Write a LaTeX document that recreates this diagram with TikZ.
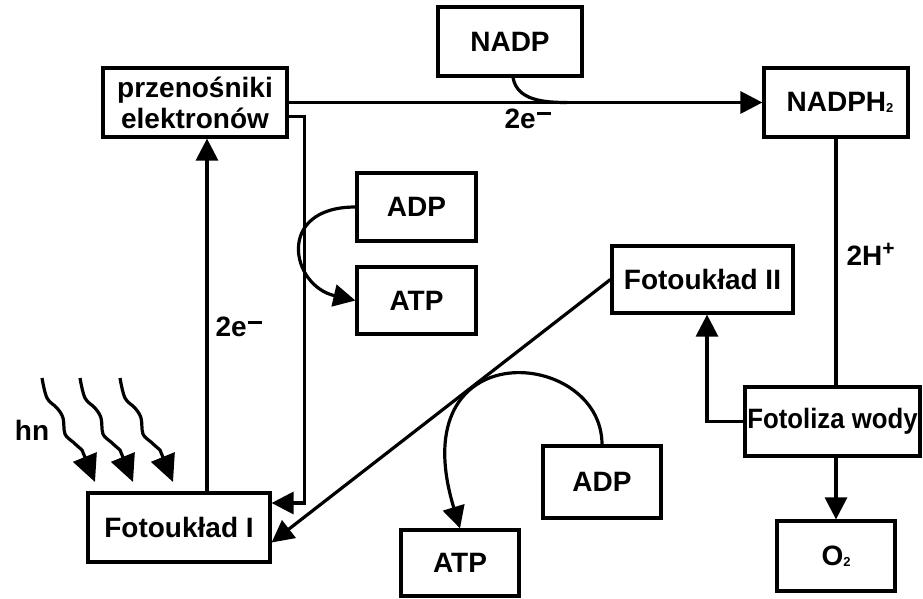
\documentclass[tikz,border=0pt]{standalone}
\usepackage{fontspec}
\setmainfont{Liberation Sans}
\usetikzlibrary{arrows.meta}
\newcommand{\minusel}{\kern1pt\raisebox{13pt}{\rule{14pt}{3pt}}}
\newcommand{\plusel}{\raisebox{10pt}{\fontsize{21}{21}\selectfont +}}
\newcommand{\indeks}[1]{\raisebox{-1.5pt}{\fontsize{13}{13}\selectfont #1}}

\begin{document}
\begin{tikzpicture}[
		x=1pt, y=1pt,
		line width=3.2pt,
		% wspolne style
		myarrow/.style={-{Triangle[length=22pt, width=22pt]}},
		falarrow/.style={-{Triangle[length=27pt, width=25pt]}},
		blok/.style={rectangle, draw, line width=3.2pt, inner sep=0pt, align=center, font=\fontsize{28}{31}\selectfont\bfseries},
		tekst/.style={inner sep=0pt, font=\fontsize{28}{31}\selectfont\bfseries}
		]
		\useasboundingbox (0,0) rectangle (923,598);
		
		\node[blok, minimum width=184pt, minimum height=69pt] (nosniki) at (195,495.5) {przenośniki\\elektronów};
		\node[blok, minimum width=144pt, minimum height=69pt] (nadp) at (510,556.5) {NADP};
		\node[blok, minimum width=144pt, minimum height=69pt] (nadph) at (836,495.5) {\kern8pt NADPH\indeks{2}};
		\node[blok, minimum width=119pt, minimum height=68pt] (adpa) at (416.5,391) {ADP};
		\node[blok, minimum width=119pt, minimum height=67pt] (atpa) at (416.5,297.5) {ATP};
		\node[blok, minimum width=181pt, minimum height=67pt] (fotodwa) at (702.5,318.5) {Fotoukład II};
		\node[blok, minimum width=175pt, minimum height=69pt] (fotoliza) at (832.5,176.5) {\scalebox{0.92}[1]{Fotoliza wody}};
		\node[blok, minimum width=182pt, minimum height=69pt] (fotojeden) at (179,70.5) {Fotoukład I};
		\node[blok, minimum width=118pt, minimum height=72pt] (adpb) at (602,116) {ADP};
		\node[blok, minimum width=118pt, minimum height=66pt] (atpb) at (460,35) {ATP};
		\node[blok, minimum width=118pt, minimum height=70pt] (tlen) at (836,42) {O\indeks{2}};
		
		\node[tekst, anchor=west] (egora) at (503,479.5) {2e\minusel};
		\node[tekst, anchor=west] (elewo) at (214,271) {2e\minusel};
		\node[tekst, anchor=west] (wodor) at (845,344) {2H\plusel};
		\node[tekst] (hn) at (32,168) {hn};
		\coordinate (zlacze) at (567,495.5);
		
		% transport elektronow
		\draw[myarrow] (nosniki.east) -- (nadph.west);
		\draw ([xshift=3pt]nadp.south) to[out=-80, in=180] (zlacze);
		\draw[myarrow] ([xshift=28pt]fotojeden.north) -- ([xshift=12pt]nosniki.south);
		\draw[myarrow] ([yshift=-14pt]nosniki.east) -- ++(16,0) |- ([yshift=24.5pt]fotojeden.east);
		\draw[myarrow] (adpa.west) .. controls +(-80,0) and +(-65,15) .. (atpa.west);
		\draw[myarrow] (fotodwa.west) -- ([yshift=-15pt]fotojeden.east);
		\draw[myarrow] (adpb.north) .. controls (602,250) and (400,268) .. (atpb.north);
		
		% fotoliza
		\draw (nadph.south) -- (nadph.south |- fotoliza.north);
		\draw[myarrow] (fotoliza.west) -| ([xshift=4.5pt]fotodwa.south);
		\draw[myarrow] (tlen.north |- fotoliza.south) -- (tlen.north);
		
		% swiatlo
		\foreach \x [count=\i] in {42,80,120} {
			\coordinate (start\i) at (\x,220);
			\draw[falarrow, shift={(start\i)}] plot[smooth, tension=0.6] coordinates {(0,0) (5,-20) (15,-30) (21,-40) (23,-56) (31,-64) (40,-72)} -- (53,-104);
		}
		
	\end{tikzpicture}
\end{document}
